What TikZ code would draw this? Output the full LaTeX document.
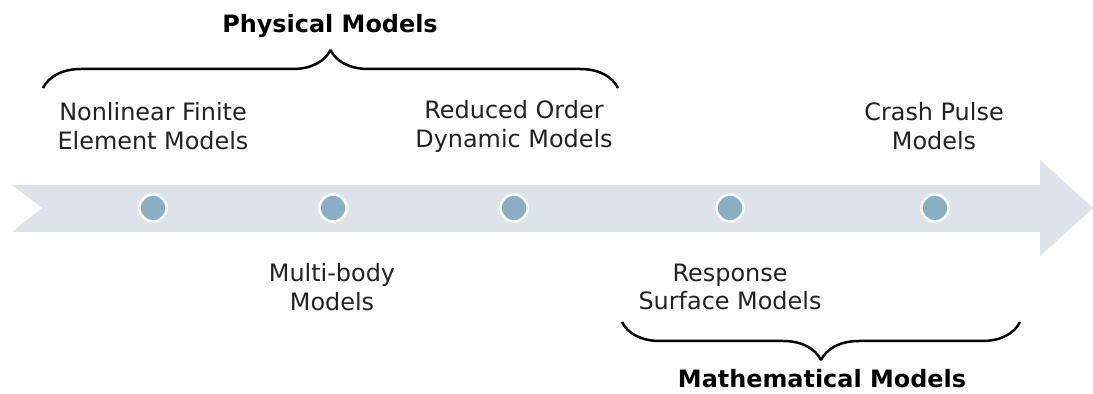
\documentclass[tikz,border=0pt]{standalone}
\usepackage{fontspec}
\setmainfont{DejaVu Sans}
\usetikzlibrary{decorations.pathreplacing}
\definecolor{bandcol}{HTML}{DCE4EB}
\definecolor{dotcol}{HTML}{8AAFC4}
\definecolor{txtcol}{HTML}{222222}
\tikzset{
  modellabel/.style={align=center,text=txtcol,font=\fontsize{24}{29}\selectfont,inner sep=0pt},
  grouplabel/.style={font=\fontsize{24}{28}\selectfont\bfseries,inner sep=0pt},
  stepdot/.style={circle,fill=dotcol,draw=white,line width=2.5bp,minimum size=27bp,inner sep=0pt},
  groupbrace/.style={decorate,decoration={brace,amplitude=38bp,aspect=0.5},line width=2.5bp},
}
\begin{document}
\begin{tikzpicture}[line join=bevel,]
%%
\useasboundingbox (0bp,0bp) rectangle (1093bp,394bp);
\fill [bandcol] (12bp,209bp) -- (1040bp,209bp) -- (1040bp,234bp) -- (1093bp,186bp)
  -- (1040bp,138bp) -- (1040bp,162bp) -- (12bp,162bp) -- (42bp,186bp) -- cycle;
%
\node (node_0) at (153bp,186bp) [stepdot] {};
  \node (node_1) at (333bp,186bp) [stepdot] {};
  \node (node_2) at (514bp,186bp) [stepdot] {};
  \node (node_3) at (730bp,186bp) [stepdot] {};
  \node (node_4) at (935bp,186bp) [stepdot] {};
%
\node (label_0) at (153bp,268bp) [modellabel] {Nonlinear Finite\\Element Models};
  \node (label_1) at (332bp,107bp) [modellabel] {Multi-body\\Models};
  \node (label_2) at (514bp,268bp) [modellabel] {Reduced Order\\Dynamic Models};
  \node (label_3) at (730bp,107bp) [modellabel] {Response\\Surface Models};
  \node (label_4) at (934bp,268bp) [modellabel] {Crash Pulse\\Models};
%
\coordinate (brace_0a) at (43bp,306bp);
  \coordinate (brace_0b) at (618bp,306bp);
  \coordinate (brace_1a) at (1020bp,72bp);
  \coordinate (brace_1b) at (622bp,72bp);
  \draw [groupbrace] (brace_0a) -- (brace_0b);
  \draw [groupbrace] (brace_1a) -- (brace_1b);
\node (group_0) at (330bp,368bp) [grouplabel] {Physical Models};
  \node (group_1) at (822bp,15bp) [grouplabel] {Mathematical Models};
%
\end{tikzpicture}
\end{document}
